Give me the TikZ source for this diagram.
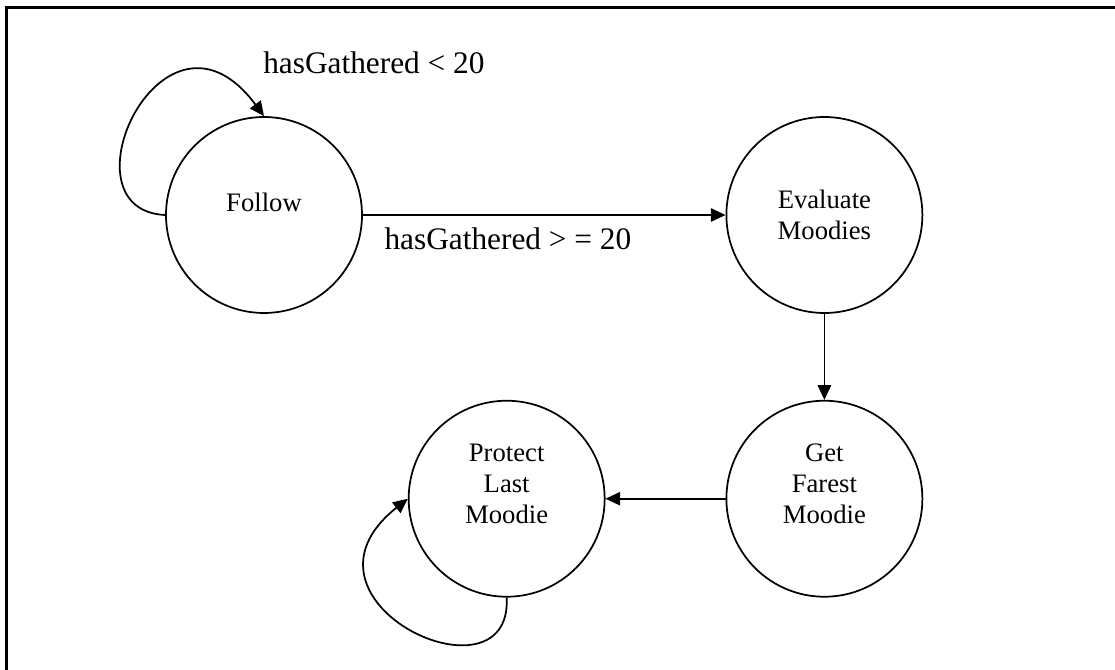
\documentclass[tikz,border=0pt]{standalone}
\usepackage{fontspec}
\setmainfont{Liberation Serif}
\usepackage{tikz}
\usetikzlibrary{positioning, arrows.meta, calc}

\begin{document}
\begin{tikzpicture}[
    x=0.75pt, y=-0.75pt,
    statenode/.style={circle, draw=black, line width=1.3pt, minimum size=147pt},
    statetext/.style={align=center, font=\fontsize{20}{23.25}\selectfont},
    condlabel/.style={font=\fontsize{23.5}{28}\selectfont, inner sep=0pt},
    trans/.style={-{Triangle[length=11pt, width=10pt]}, line width=1.3pt},
]
\useasboundingbox (0,0) rectangle (1115,670);
\draw[line width=1.6pt] (6.5,670) -- (6.5,7.5) -- (1115,7.5);

\node[statenode](follow) at (264,215){};
\node[statenode](evaluate)[right = 272pt of follow]{};
\node[statenode](getfar)[below = 64.5pt of evaluate]{};
\node[statenode](protect)[left = 90pt of getfar]{};

\node[statetext](followtxt) at ($(follow)+(0,-13)$){Follow};
\node[statetext](evaluatetxt) at (evaluate){Evaluate\\Moodies};
\node[statetext](getfartxt) at ($(getfar)+(0,-15)$){Get\\Farest\\Moodie};
\node[statetext](protecttxt) at ($(protect)+(0,-15)$){Protect\\Last\\Moodie};

\draw[trans] (follow) -- node[condlabel, pos=0.4, below=9pt](gelabel){hasGathered > = 20} (evaluate);
\draw[trans] (evaluate) -- (getfar);
\draw[trans] (getfar) -- (protect);
\draw[trans] (follow.west) .. controls +(-108,-5) and +(-100,-135) .. (follow.north);
\draw[trans] (protect.south) .. controls +(6,112) and +(-130,103) .. (protect.west);
\node[condlabel, anchor=base west](ltlabel) at (263,74){hasGathered < 20};
\end{tikzpicture}
\end{document}
